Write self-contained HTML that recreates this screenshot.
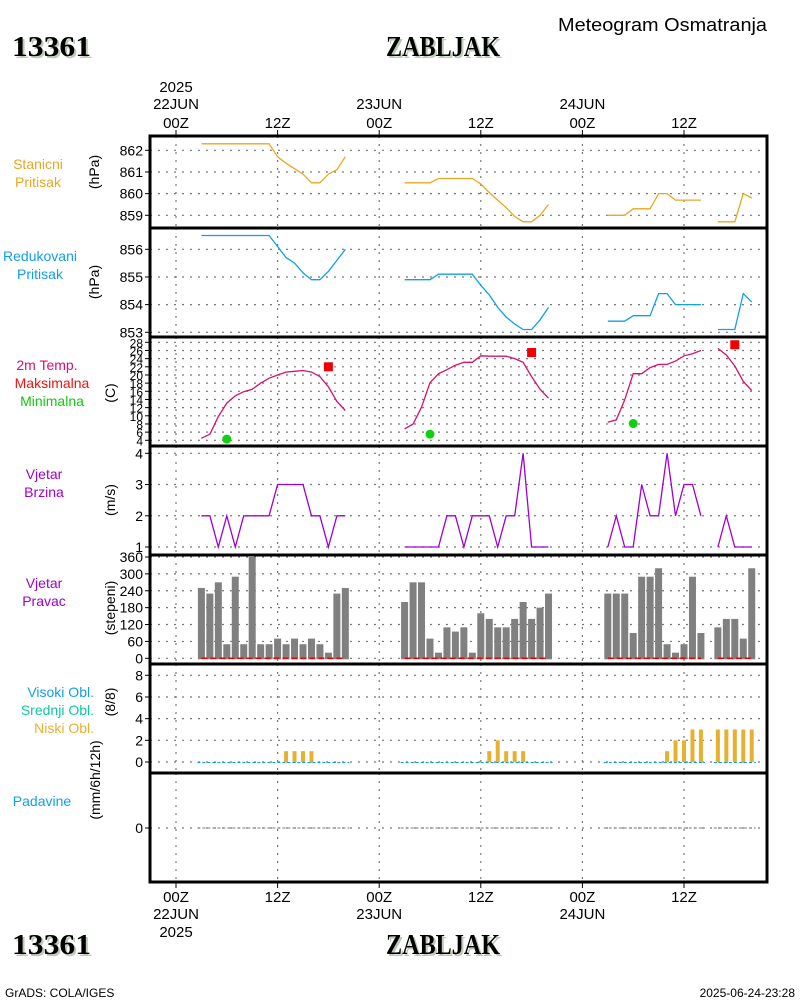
<!DOCTYPE html>
<html><head><meta charset="utf-8"><style>
html,body{margin:0;padding:0;background:#fff;}
svg{display:block;font-family:"Liberation Sans",sans-serif;}
.t{font-size:14px;fill:#000;}
.big{font-family:"Liberation Serif",serif;font-weight:bold;font-size:29px;}
</style></head><body>
<svg id="chart" width="800" height="1000" viewBox="0 0 800 1000">
<g id="static">
<text x="558" y="31" textLength="209" lengthAdjust="spacingAndGlyphs" font-size="18">Meteogram Osmatranja</text>
<text x="14" y="58" class="big" fill="#bccbb8" textLength="79" lengthAdjust="spacingAndGlyphs">13361</text>
<text x="12" y="56" class="big" textLength="79" lengthAdjust="spacingAndGlyphs">13361</text>
<text x="388" y="58" class="big" fill="#bccbb8" textLength="114" lengthAdjust="spacingAndGlyphs">ZABLJAK</text>
<text x="386" y="56" class="big" textLength="114" lengthAdjust="spacingAndGlyphs">ZABLJAK</text>
<text x="14" y="956" class="big" fill="#bccbb8" textLength="79" lengthAdjust="spacingAndGlyphs">13361</text>
<text x="12" y="954" class="big" textLength="79" lengthAdjust="spacingAndGlyphs">13361</text>
<text x="388" y="956" class="big" fill="#bccbb8" textLength="114" lengthAdjust="spacingAndGlyphs">ZABLJAK</text>
<text x="386" y="954" class="big" textLength="114" lengthAdjust="spacingAndGlyphs">ZABLJAK</text>
<text x="5" y="997" font-size="12">GrADS: COLA/IGES</text>
<text x="795" y="997" font-size="12" text-anchor="end">2025-06-24-23:28</text>

<g font-size="14" text-anchor="middle">
<text x="38" y="169" fill="#e8a820">Stanicni</text>
<text x="38" y="187" fill="#e8a820">Pritisak</text>
<text x="40" y="261" fill="#10a0e8">Redukovani</text>
<text x="40" y="279" fill="#10a0e8">Pritisak</text>
<text x="47" y="370" fill="#d81070">2m Temp.</text>
<text x="52" y="388" fill="#f01010">Maksimalna</text>
<text x="52" y="406" fill="#10c810">Minimalna</text>
<text x="44" y="479" fill="#a000d0">Vjetar</text>
<text x="44" y="497" fill="#a000d0">Brzina</text>
<text x="44" y="588" fill="#a000d0">Vjetar</text>
<text x="44" y="606" fill="#a000d0">Pravac</text>
</g>
<g font-size="14" text-anchor="end">
<text x="94" y="697" fill="#10a0e8">Visoki Obl.</text>
<text x="94" y="715" fill="#10c8a0">Srednji Obl.</text>
<text x="94" y="733" fill="#e8b030">Niski Obl.</text>
</g>
<text x="42" y="806" font-size="14" text-anchor="middle" fill="#10a0e8">Padavine</text>
<g font-size="14" text-anchor="middle">
<text transform="translate(99,172) rotate(-90)">(hPa)</text>
<text transform="translate(99,282) rotate(-90)">(hPa)</text>
<text transform="translate(115,393) rotate(-90)">(C)</text>
<text transform="translate(115,500) rotate(-90)">(m/s)</text>
<text transform="translate(115,608) rotate(-90)">(stepeni)</text>
<text transform="translate(115,702) rotate(-90)">(8/8)</text>
<text transform="translate(100,780) rotate(-90)">(mm/6h/12h)</text>
</g>
</g>
<g id="grid"></g>
<g id="marks"></g>
<g id="frame"></g>
</svg>
<script>
// ---- data ----
const obsHours = [3,4,5,6,7,8,9,10,11,12,13,14,15,16,17,18,19,20,
 27,28,29,30,31,32,33,34,35,36,37,38,39,40,41,42,43,44,
 51,52,53,54,55,56,57,58,59,60,61,62,
 64,65,66,67,68];
const stanicni = [862.3,862.3,862.3,862.3,862.3,862.3,862.3,862.3,862.3,861.7,861.4,861.15,860.9,860.5,860.5,860.9,861.1,861.7,
 860.5,860.5,860.5,860.5,860.7,860.7,860.7,860.7,860.7,860.45,860.05,859.7,859.35,858.95,858.7,858.7,859.0,859.5,
 859.0,859.0,859.0,859.3,859.3,859.3,860.0,860.0,859.7,859.7,859.7,859.7,
 858.7,858.7,858.7,860.0,859.8];
const redukovani = [856.5,856.5,856.5,856.5,856.5,856.5,856.5,856.5,856.5,856.1,855.7,855.5,855.15,854.9,854.9,855.2,855.6,856.0,
 854.9,854.9,854.9,854.9,855.1,855.1,855.1,855.1,855.1,854.7,854.35,853.9,853.55,853.3,853.1,853.1,853.45,853.9,
 853.4,853.4,853.4,853.6,853.6,853.6,854.4,854.4,854.0,854.0,854.0,854.0,
 853.1,853.1,853.1,854.4,854.1];
const temp2m = [4.5,5.5,9.8,13.1,14.9,15.9,16.5,18,19.2,20,20.7,20.9,21.1,20.7,19.6,17.1,13.5,11.3,
 6.8,8.0,12.1,18.1,20.3,21.3,22.4,23.1,23.1,24.7,24.6,24.6,24.6,24.0,23.1,19.6,16.5,14.3,
 8.4,9.0,13.9,20.3,20.3,21.8,22.6,22.6,23.4,24.7,25.2,26.0,
 26.5,24.9,22.2,18.4,16.2];
const maxHours = [18,42,66];
const maxTemp = [22,25.5,27.4];
const minHours = [6,30,54];
const minTemp = [4.3,5.5,8.1];
const windSpeed = [2,2,1,2,1,2,2,2,2,3,3,3,3,2,2,1,2,2,
 1,1,1,1,1,2,2,1,2,2,2,1,2,2,4,1,1,1,
 1,2,1,1,3,2,2,4,2,3,3,2,
 1,2,1,1,1];
const windDir = [250,230,270,50,290,50,360,50,50,70,50,70,50,70,50,20,230,250,
 200,270,270,70,20,110,95,110,20,160,140,110,110,140,200,140,180,230,
 230,230,230,90,290,290,320,50,20,50,290,90,
 110,140,140,70,320];
const lowCloud = [0,0,0,0,0,0,0,0,0,0,1,1,1,1,0,0,0,0,
 0,0,0,0,0,0,0,0,0,0,1,2,1,1,1,0,0,0,
 0,0,0,0,0,0,0,1,2,2,3,3,
 3,3,3,3,3];
const precip = [];
const timeTicks = [0,12,24,36,48,60];
const timeLabels = ["00Z","12Z","00Z","12Z","00Z","12Z"];
const dateLabels = ["22JUN","","23JUN","","24JUN",""];
const stanTicks = [862,861,860,859];
const redTicks = [856,855,854,853];
const tempTicks = [28,26,24,22,20,18,16,14,12,10,8,6,4];
const speedTicks = [4,3,2,1];
const dirTicks = [360,300,240,180,120,60,0];
const cloudTicks = [8,6,4,2,0];

// ---- axes ----
const X0=150, X1=767;
const xOf = h => 176 + h*(684-176)/60;
const lin = (v0,y0,v1,y1) => v => y0 + (v-v0)*(y1-y0)/(v1-v0);
const yStan = lin(862,150.3,859,215.3);
const yRed = lin(856,249.3,853,332.3);
const yTemp = lin(4,440.3,28,342.3);
const ySpd = lin(1,547,4,453.3);
const yDir = lin(0,658.3,360,557);
const yCld = lin(0,762,8,675.3);
const yPcp = v => 828;
const panels = [[136,228],[228,337],[337,446],[446,555],[555,664],[664,773],[773,882]];
const NS="http://www.w3.org/2000/svg";
function mk(tag, attrs, parent){const e=document.createElementNS(NS,tag);for(const k in attrs)e.setAttribute(k,attrs[k]);parent.appendChild(e);return e;}
const grid=document.getElementById('grid'), marks=document.getElementById('marks'), frame=document.getElementById('frame');

panels.forEach(p=>{
  timeTicks.forEach(h=>{
    const l=mk('line',{x1:xOf(h),x2:xOf(h),y1:p[0],y2:p[1],stroke:'#777','stroke-width':1.2,'stroke-dasharray':'2,6'},grid);
    
    
  });
});
function yAxis(ticks, yf, name){
  ticks.forEach(v=>{
    const y=yf(v);
    const g=mk('line',{x1:X0,x2:X1,y1:y,y2:y,stroke:'#777','stroke-width':1.2,'stroke-dasharray':'2,6'},grid);
    
    
    mk('line',{x1:X0-5,x2:X0,y1:y,y2:y,stroke:'#000','stroke-width':1},frame);
    const t=mk('text',{x:X0-7,y:y+5,'text-anchor':'end','font-size':name==='temp'?12:14},frame);
    t.textContent=v;
    
    
  });
}
yAxis(stanTicks,yStan,'stanicni');
yAxis(redTicks,yRed,'redukovani');
yAxis(tempTicks,yTemp,'temp');
yAxis(speedTicks,ySpd,'speed');
yAxis(dirTicks,yDir,'direction');
yAxis(cloudTicks,yCld,'cloud');
yAxis([0],yPcp,'precip');

timeTicks.forEach((h,i)=>{
  const x=xOf(h);
  mk('line',{x1:x,x2:x,y1:130,y2:136,stroke:'#000'},frame);
  mk('line',{x1:x,x2:x,y1:882,y2:888,stroke:'#000'},frame);
  const t=mk('text',{x:x,y:128,'text-anchor':'middle','font-size':15},frame);t.textContent=timeLabels[i];
  
  
  const b=mk('text',{x:x,y:902,'text-anchor':'middle','font-size':15},frame);b.textContent=timeLabels[i];
  
  
  if(dateLabels[i]){
    const d=mk('text',{x:x,y:109,'text-anchor':'middle','font-size':15},frame);d.textContent=dateLabels[i];
    
    
    const e=mk('text',{x:x,y:919,'text-anchor':'middle','font-size':15},frame);e.textContent=dateLabels[i];
    
    
  }
});
const yr1=mk('text',{x:xOf(0),y:92,'text-anchor':'middle','font-size':15},frame);yr1.textContent='2025';


const yr2=mk('text',{x:xOf(0),y:937,'text-anchor':'middle','font-size':15},frame);yr2.textContent='2025';



panels.forEach(p=>{
  const r=mk('rect',{x:X0,y:p[0],width:X1-X0,height:p[1]-p[0],fill:'none',stroke:'#000','stroke-width':3},frame);
  
  
});

function segments(){
  const segs=[];let cur=[];
  obsHours.forEach((h,i)=>{
    if(cur.length && h-obsHours[cur[cur.length-1]]>1){segs.push(cur);cur=[];}
    cur.push(i);
  });
  if(cur.length)segs.push(cur);
  return segs;
}
function drawLine(vals,yf,color,name){
  segments().forEach(s=>{
    const pts=s.map(i=>xOf(obsHours[i]).toFixed(1)+','+yf(vals[i]).toFixed(1)).join(' ');
    const pl=mk('polyline',{points:pts,fill:'none',stroke:color,'stroke-width':1.3},marks);
    
    
  });
}
drawLine(stanicni,yStan,'#e8a820','stanicni-pressure-line');
drawLine(redukovani,yRed,'#10a0e8','redukovani-pressure-line');
drawLine(temp2m,yTemp,'#d81070','temperature-line');
drawLine(windSpeed,ySpd,'#a000d0','wind-speed-line');

maxHours.forEach((h,i)=>{
  const r=mk('rect',{x:xOf(h)-4.5,y:yTemp(maxTemp[i])-4.5,width:9,height:9,fill:'#f00000'},marks);
  
  
});
minHours.forEach((h,i)=>{
  const c=mk('circle',{cx:xOf(h),cy:yTemp(minTemp[i]),r:4.5,fill:'#10d010'},marks);
  
  
});

windDir.forEach((v,i)=>{
  const x=xOf(obsHours[i]);
  const r=mk('rect',{x:x-3.5,y:yDir(v),width:7,height:yDir(0)-yDir(v)+1,fill:'#808080'},marks);
  
  
});
lowCloud.forEach((v,i)=>{
  if(v<=0)return;
  const x=xOf(obsHours[i]);
  const r=mk('rect',{x:x-2,y:yCld(v),width:4,height:yCld(0)-yCld(v),fill:'#e8b030'},marks);
  
  
});
segments().forEach(s=>{
  const xa=xOf(obsHours[s[0]]), xb=xOf(obsHours[s[s.length-1]]);
  const a=mk('line',{x1:xa,x2:xb,y1:yDir(0),y2:yDir(0),stroke:'#f00000','stroke-width':1.5,'stroke-dasharray':'6,3'},marks);
  
  
  const b=mk('line',{x1:xa-4,x2:xb+4,y1:yCld(0)+0.5,y2:yCld(0)+0.5,stroke:'#10a0c0','stroke-width':1,'stroke-dasharray':'3,2'},marks);
  
  
  const c=mk('line',{x1:xa-4,x2:xb+4,y1:yPcp(0),y2:yPcp(0),stroke:'#777','stroke-width':1,'stroke-dasharray':'3,2'},marks);
  
  
});
</script>
</body></html>
